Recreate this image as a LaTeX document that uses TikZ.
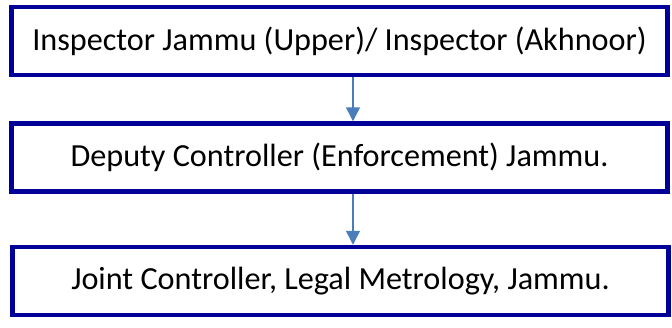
\documentclass[tikz,border=0pt]{standalone}
\usepackage{fontspec}
\setmainfont{Carlito}
\usetikzlibrary{arrows.meta}
\definecolor{boxblue}{RGB}{0,0,153}
\definecolor{arrowblue}{RGB}{74,126,187}
\begin{document}
\begin{tikzpicture}[x=1pt,y=-1pt,
        box/.style={shape=rectangle,draw=boxblue,line width=4.5pt,minimum width=656pt,minimum height=68pt,inner sep=0pt,font=\fontsize{32.2}{38}\selectfont},
        link/.style={draw=arrowblue,line width=1.5pt,-{Triangle[width=14pt,length=14pt]}}]
                \useasboundingbox (0,0) rectangle (672,327);

                \node[box] (1) at (339.5,41) {Inspector Jammu (Upper)/ Inspector (Akhnoor)};
                \node[box] (2) at (339.5,157.5) {Deputy Controller (Enforcement) Jammu.};
                \node[box] (3) at (340.5,281) {Joint Controller, Legal Metrology, Jammu.};

                \draw[link] ([xshift=13.5pt]1.south) -- ([xshift=13.5pt]2.north);
                \draw[link] ([xshift=13.5pt]2.south) -- ([xshift=12.5pt]3.north);
            \end{tikzpicture}
\end{document}
